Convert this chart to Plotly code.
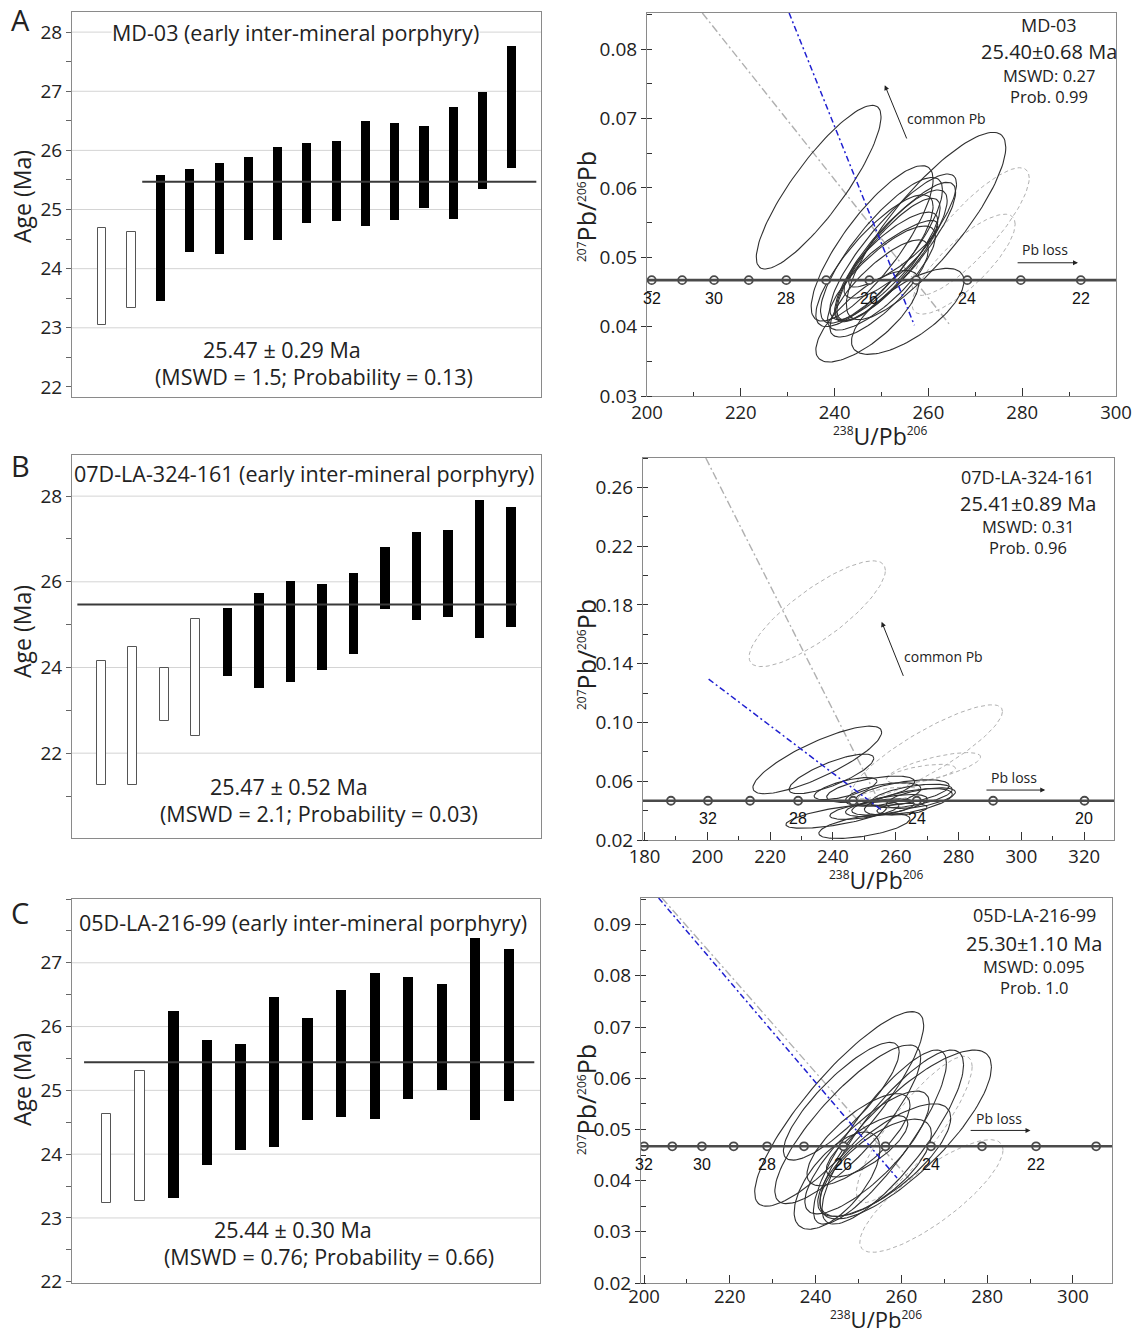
import numpy as np
import plotly.graph_objects as go

W, H = 1136, 1334

# ---------------- Left column: individual spot ages (Ma) ----------------
A_low  = [23.05, 23.33, 23.46, 24.28, 24.24, 24.49, 24.49, 24.78, 24.81, 24.72, 24.83, 25.02, 24.84, 25.35, 25.70]
A_high = [24.69, 24.62, 25.58, 25.68, 25.78, 25.88, 26.05, 26.13, 26.16, 26.49, 26.47, 26.41, 26.74, 26.98, 27.76]
A_rejected = [1, 1, 0, 0, 0, 0, 0, 0, 0, 0, 0, 0, 0, 0, 0]
A_mean = 25.47

B_low  = [21.26, 21.26, 22.76, 22.39, 23.79, 23.52, 23.66, 23.93, 24.32, 25.36, 25.11, 25.17, 24.70, 24.95]
B_high = [24.16, 24.49, 23.98, 25.13, 25.40, 25.73, 26.03, 25.96, 26.21, 26.81, 27.16, 27.20, 27.91, 27.75]
B_rejected = [1, 1, 1, 1, 0, 0, 0, 0, 0, 0, 0, 0, 0, 0]
B_mean = 25.47

C_low  = [23.24, 23.27, 23.32, 23.83, 24.06, 24.11, 24.54, 24.59, 24.55, 24.87, 25.01, 24.54, 24.84]
C_high = [24.63, 25.31, 26.25, 25.79, 25.73, 26.46, 26.14, 26.58, 26.84, 26.77, 26.66, 27.39, 27.21]
C_rejected = [1, 1, 0, 0, 0, 0, 0, 0, 0, 0, 0, 0, 0]
C_mean = 25.44

A_left_ticks = [22, 23, 24, 25, 26, 27, 28]
B_left_ticks = [22, 24, 26, 28]
C_left_ticks = [22, 23, 24, 25, 26, 27]
A_grid = [23, 24, 25, 26, 27, 28]
B_grid = [22, 24, 26, 28]
C_grid = [23, 24, 25, 26, 27]

# ---------------- Right column: Tera-Wasserburg ellipses ----------------
# centre 238U/206Pb, centre 207Pb/206Pb, half-width, half-height, error correlation, grey(rejected)
A_ex   = [236.6, 259.5, 248.0, 252.5, 253.0, 252.0, 251.5, 252.5, 252.0, 247.0, 255.6, 250.0, 249.5, 248.5, 250.0, 269.0, 267.5]
A_ey   = [0.0601, 0.0545, 0.0520, 0.0515, 0.0508, 0.0502, 0.0497, 0.0505, 0.0503, 0.0415, 0.0422, 0.0470, 0.0455, 0.0495, 0.0510, 0.0537, 0.0490]
A_esx  = [13.3, 17.0, 13.0, 13.5, 12.8, 12.0, 11.0, 9.5, 10.0, 11.0, 12.0, 11.5, 10.5, 12.5, 13.0, 12.5, 11.0]
A_esy  = [0.0118, 0.0135, 0.0112, 0.0105, 0.0100, 0.0095, 0.0088, 0.0048, 0.0062, 0.0066, 0.0062, 0.0075, 0.0070, 0.0095, 0.0105, 0.0092, 0.0072]
A_erho = [0.86, 0.84, 0.82, 0.86, 0.86, 0.84, 0.84, 0.86, 0.80, 0.74, 0.70, 0.80, 0.80, 0.82, 0.83, 0.84, 0.80]
A_egray = [0, 0, 0, 0, 0, 0, 0, 0, 0, 0, 0, 0, 0, 0, 0, 1, 1]

B_ex   = [235.0, 239.5, 244.0, 252.0, 256.0, 262.0, 265.0, 264.0, 258.0, 255.0, 250.0, 262.0, 241.0, 250.0, 268.0, 235.0, 270.0, 272.0, 268.0, 258.0]
B_ey   = [0.0745, 0.0650, 0.0550, 0.0545, 0.0510, 0.0520, 0.0500, 0.0460, 0.0440, 0.0420, 0.0400, 0.0410, 0.0360, 0.0295, 0.0485, 0.1740, 0.0800, 0.0690, 0.0650, 0.0510]
B_esx  = [20.5, 13.5, 10.0, 14.0, 12.0, 15.0, 13.0, 14.0, 12.0, 11.0, 11.0, 8.0, 16.0, 14.5, 11.0, 21.7, 24.0, 15.0, 11.0, 10.0]
B_esy  = [0.0230, 0.0135, 0.0075, 0.0090, 0.0080, 0.0090, 0.0080, 0.0090, 0.0070, 0.0060, 0.0060, 0.0040, 0.0080, 0.0085, 0.0070, 0.0360, 0.0320, 0.0105, 0.0065, 0.0050]
B_erho = [0.82, 0.78, 0.68, 0.58, 0.50, 0.55, 0.55, 0.58, 0.58, 0.50, 0.58, 0.30, 0.68, 0.58, 0.58, 0.82, 0.86, 0.72, 0.58, 0.50]
B_egray = [0, 0, 0, 0, 0, 0, 0, 0, 0, 0, 0, 0, 0, 0, 0, 1, 1, 1, 1, 1]

C_ex   = [245.5, 246.0, 247.5, 255.0, 258.0, 261.0, 252.0, 256.0, 254.0, 252.0, 245.0, 250.0, 267.0, 263.0]
C_ey   = [0.0540, 0.0555, 0.0510, 0.0485, 0.0485, 0.0490, 0.0455, 0.0440, 0.0425, 0.0467, 0.0400, 0.0480, 0.0370, 0.0500]
C_esx  = [19.7, 13.5, 17.0, 15.5, 16.5, 20.0, 14.5, 15.5, 13.0, 9.5, 10.0, 12.0, 16.7, 13.5]
C_esy  = [0.0190, 0.0115, 0.0155, 0.0170, 0.0170, 0.0165, 0.0120, 0.0110, 0.0095, 0.0060, 0.0095, 0.0090, 0.0110, 0.0143]
C_erho = [0.86, 0.84, 0.84, 0.85, 0.83, 0.80, 0.80, 0.75, 0.70, 0.75, 0.65, 0.75, 0.82, 0.86]
C_egray = [0, 0, 0, 0, 0, 0, 0, 0, 0, 0, 0, 0, 1, 1]

# concordia age marks (Ma) and their 238U/206Pb positions
conc_y = 0.0467
A_conc_age = [32, 31, 30, 29, 28, 27, 26, 25, 24, 23, 22]
A_conc_x   = [201.0, 207.5, 214.3, 221.7, 229.7, 238.2, 247.4, 257.4, 268.3, 279.7, 292.5]
A_conc_lbl = [32, 30, 28, 26, 24, 22]
B_conc_age = [34, 32, 30, 28, 26, 24, 22, 20]
B_conc_x   = [188.4, 200.2, 213.6, 228.9, 246.4, 266.7, 291.0, 320.1]
B_conc_lbl = [32, 28, 24, 20]
C_conc_age = [32, 31, 30, 29, 28, 27, 26, 25, 24, 23, 22, 21]
C_conc_x   = [200.0, 206.6, 213.5, 220.9, 228.7, 237.3, 246.5, 256.3, 266.9, 278.8, 291.4, 305.4]
C_conc_lbl = [32, 30, 28, 26, 24, 22]

# discordia / regression lines (x pairs, y pairs)
A_grey_line_x = [211.8, 264.4];  A_grey_line_y = [0.0852, 0.0404]
A_blue_line_x = [230.3, 257.0];  A_blue_line_y = [0.0852, 0.0402]
B_grey_line_x = [199.5, 254.5];  B_grey_line_y = [0.2800, 0.0470]
B_blue_line_x = [200.4, 255.7];  B_blue_line_y = [0.1295, 0.0400]
C_grey_line_x = [204.2, 262.3];  C_grey_line_y = [0.0952, 0.0399]
C_blue_line_x = [203.4, 259.0];  C_blue_line_y = [0.0952, 0.0405]

A_info = ["MD-03", "25.40±0.68 Ma", "MSWD: 0.27", "Prob. 0.99"]
B_info = ["07D-LA-324-161", "25.41±0.89 Ma", "MSWD: 0.31", "Prob. 0.96"]
C_info = ["05D-LA-216-99", "25.30±1.10 Ma", "MSWD: 0.095", "Prob. 1.0"]

FONT = "Open Sans"
DARK = "#222222"
LEFT_TXT = 21.5

fig = go.Figure()
shapes = []
annots = []

def px_x(p):
    return p / W

def px_y(p):
    return 1 - p / H

def ax_names(i):
    return ("x" if i == 1 else f"x{i}"), ("y" if i == 1 else f"y{i}")

# ---------- left panels ----------
def left_panel(i, low, high, rej, mean, mean_span, grid, title, tpos, res1, r1pos, res2, r2pos):
    xr, yr = ax_names(i)
    n = len(low)
    pos = list(range(1, n + 1))
    ox = [p for p, r in zip(pos, rej) if r]
    ol = [l for l, r in zip(low, rej) if r]
    oh = [h - l for l, h, r in zip(low, high, rej) if r]
    fx = [p for p, r in zip(pos, rej) if not r]
    fl = [l for l, r in zip(low, rej) if not r]
    fh = [h - l for l, h, r in zip(low, high, rej) if not r]
    fig.add_trace(go.Bar(x=ox, y=oh, base=ol, width=0.29, xaxis=xr, yaxis=yr,
                         marker=dict(color="white", line=dict(color="#555555", width=1))))
    fig.add_trace(go.Bar(x=fx, y=fh, base=fl, width=0.31, xaxis=xr, yaxis=yr,
                         marker=dict(color="black", line=dict(color="black", width=0))))
    fig.add_trace(go.Scatter(x=mean_span, y=[mean, mean], mode="lines", xaxis=xr, yaxis=yr,
                             line=dict(color="#3a3a3a", width=2)))
    for g in grid:
        shapes.append(dict(type="line", xref=f"{xr} domain", yref=yr, x0=0, x1=1, y0=g, y1=g,
                           line=dict(color="#d4d4d4", width=1), layer="below"))
    annots.append(dict(x=tpos[0], y=tpos[1], xref=xr, yref=yr, text=title, showarrow=False,
                       xanchor="center", yanchor="middle",
                       font=dict(family=FONT, size=LEFT_TXT, color=DARK), bgcolor="white", borderpad=0))
    annots.append(dict(x=r1pos[0], y=r1pos[1], xref=xr, yref=yr, text=res1, showarrow=False,
                       xanchor="center", yanchor="middle",
                       font=dict(family=FONT, size=LEFT_TXT, color=DARK)))
    annots.append(dict(x=r2pos[0], y=r2pos[1], xref=xr, yref=yr, text=res2, showarrow=False,
                       xanchor="center", yanchor="middle",
                       font=dict(family=FONT, size=LEFT_TXT, color=DARK)))

left_panel(1, A_low, A_high, A_rejected, A_mean, [2.37, 15.84], A_grid,
           "MD-03 (early inter-mineral porphyry)", (7.6, 28.0),
           "25.47 ± 0.29 Ma", (7.16, 22.64), "(MSWD = 1.5; Probability = 0.13)", (8.25, 22.17))
left_panel(3, B_low, B_high, B_rejected, B_mean, [0.24, 14.17], B_grid,
           "07D-LA-324-161 (early inter-mineral porphyry)", (7.44, 28.53),
           "25.47 ± 0.52 Ma", (6.97, 21.22), "(MSWD = 2.1; Probability = 0.03)", (7.92, 20.6))
left_panel(5, C_low, C_high, C_rejected, C_mean, [0.33, 13.76], C_grid,
           "05D-LA-216-99 (early inter-mineral porphyry)", (6.87, 27.63),
           "25.44 ± 0.30 Ma", (6.55, 22.82), "(MSWD = 0.76; Probability = 0.66)", (7.64, 22.39))

# ---------- right panels ----------
def ellipse(cx, cy, sx, sy, rho, n=120):
    t = np.linspace(0, 2 * np.pi, n)
    x = cx + sx * np.cos(t)
    y = cy + sy * (rho * np.cos(t) + np.sqrt(1 - rho ** 2) * np.sin(t))
    return x, y

def right_panel(i, ex, ey, esx, esy, erho, egray, cx, cage, clbl, clbl_y, gl, bl, info, info_x, info_y,
                cpb, plo):
    xr, yr = ax_names(i)
    for k in range(len(ex)):
        x, y = ellipse(ex[k], ey[k], esx[k], esy[k], erho[k])
        if egray[k]:
            fig.add_trace(go.Scatter(x=x, y=y, mode="lines", xaxis=xr, yaxis=yr,
                                     line=dict(color="#b0b0b0", width=1, dash="4px,3px")))
    fig.add_trace(go.Scatter(x=gl[0], y=gl[1], mode="lines", xaxis=xr, yaxis=yr,
                             line=dict(color="#b0b0b0", width=1.4, dash="8px,3px,2px,3px")))
    for k in range(len(ex)):
        x, y = ellipse(ex[k], ey[k], esx[k], esy[k], erho[k])
        if not egray[k]:
            fig.add_trace(go.Scatter(x=x, y=y, mode="lines", xaxis=xr, yaxis=yr,
                                     line=dict(color="#303030", width=1.1)))
    fig.add_trace(go.Scatter(x=bl[0], y=bl[1], mode="lines", xaxis=xr, yaxis=yr,
                             line=dict(color="#2020d0", width=1.5, dash="6px,3px,2px,3px")))
    shapes.append(dict(type="line", xref=f"{xr} domain", yref=yr, x0=0, x1=1, y0=conc_y, y1=conc_y,
                       line=dict(color="#4a4a4a", width=2.6)))
    fig.add_trace(go.Scatter(x=cx, y=[conc_y] * len(cx), mode="markers", xaxis=xr, yaxis=yr,
                             text=[str(a) for a in cage],
                             marker=dict(symbol="circle", size=8, color="white",
                                         line=dict(color="#4a4a4a", width=1.8))))
    for a in clbl:
        xx = cx[cage.index(a)]
        annots.append(dict(x=xx, y=clbl_y, xref=xr, yref=yr, text=str(a), showarrow=False,
                           xanchor="center", yanchor="middle",
                           font=dict(family="Liberation Sans", size=16, color="#111")))
    sizes = [18, 20, 16.5, 16.5]
    for t, yy, s in zip(info, info_y, sizes):
        annots.append(dict(x=info_x, y=yy, xref=xr, yref=yr, text=t, showarrow=False,
                           xanchor="center", yanchor="middle",
                           font=dict(family=FONT, size=s, color=DARK)))
    if cpb is not None:
        (hx, hy, tx, ty, lx, ly) = cpb
        annots.append(dict(x=hx, y=hy, ax=tx, ay=ty, xref=xr, yref=yr, axref=xr, ayref=yr, text="",
                           showarrow=True, arrowhead=2, arrowsize=1, arrowwidth=1, arrowcolor="#222"))
        annots.append(dict(x=lx, y=ly, xref=xr, yref=yr, text="common Pb", showarrow=False,
                           xanchor="left", yanchor="middle", font=dict(family=FONT, size=14, color=DARK)))
    (x0, x1, ay_, lx, ly) = plo
    annots.append(dict(x=x1, y=ay_, ax=x0, ay=ay_, xref=xr, yref=yr, axref=xr, ayref=yr, text="",
                       showarrow=True, arrowhead=2, arrowsize=1, arrowwidth=1, arrowcolor="#222"))
    annots.append(dict(x=lx, y=ly, xref=xr, yref=yr, text="Pb loss", showarrow=False,
                       xanchor="center", yanchor="middle", font=dict(family=FONT, size=14, color=DARK)))

right_panel(2, A_ex, A_ey, A_esx, A_esy, A_erho, A_egray, A_conc_x, A_conc_age, A_conc_lbl, 0.0440,
            (A_grey_line_x, A_grey_line_y), (A_blue_line_x, A_blue_line_y),
            A_info, 285.7, [0.0835, 0.0796, 0.0762, 0.0731],
            (250.7, 0.0748, 255.5, 0.0669, 255.1, 0.0700), (278.7, 291.9, 0.0492, 284.9, 0.0511))
right_panel(4, B_ex, B_ey, B_esx, B_esy, B_erho, B_egray, B_conc_x, B_conc_age, B_conc_lbl, 0.0347,
            (B_grey_line_x, B_grey_line_y), (B_blue_line_x, B_blue_line_y),
            B_info, 302.1, [0.2672, 0.2490, 0.2336, 0.2189],
            (255.5, 0.1685, 262.6, 0.1307, 262.0, 0.1447), (288.4, 307.6, 0.0540, 297.8, 0.0624))
right_panel(6, C_ex, C_ey, C_esx, C_esy, C_erho, C_egray, C_conc_x, C_conc_age, C_conc_lbl, 0.0431,
            (C_grey_line_x, C_grey_line_y), (C_blue_line_x, C_blue_line_y),
            C_info, 291.0, [0.0918, 0.0864, 0.0819, 0.0777],
            None, (275.8, 290.1, 0.0498, 282.7, 0.0522))

# ---------- axes ----------
LINE = "#8a8a8a"
TICKF = dict(family=FONT, size=19, color=DARK)

def left_axes(i, dom_x, dom_y, xrange, yrange, ticks, minor_dtick):
    xr, yr = ax_names(i)
    xa = dict(domain=dom_x, range=xrange, showticklabels=False, ticks="", showgrid=False, automargin=False,
              zeroline=False, showline=True, mirror=True, linecolor=LINE, linewidth=1, anchor=yr)
    ya = dict(domain=dom_y, range=yrange, tickvals=ticks, ticks="outside", ticklen=5, tickcolor="#666",
              tickfont=TICKF, showgrid=False, zeroline=False, showline=True, mirror=True, automargin=False,
              linecolor=LINE, linewidth=1, anchor=xr,
              minor=dict(dtick=minor_dtick, tick0=0, ticks="outside", ticklen=5, tickcolor="#666", showgrid=False))
    return xa, ya

def right_axes(i, dom_x, dom_y, xrange, yrange, xt, yt, xminor, yminor, ytickfmt, standoff=0):
    xr, yr = ax_names(i)
    xa = dict(domain=dom_x, range=xrange, tickvals=xt, ticks="inside", ticklen=8, tickcolor="#333",
              tickfont=dict(family=FONT, size=18.5, color=DARK), showgrid=False, zeroline=False, automargin=False,
              showline=True, mirror=True, linecolor=LINE, linewidth=1, anchor=yr, ticklabelstandoff=standoff,
              minor=dict(dtick=xminor, tick0=0, ticks="inside", ticklen=4, tickcolor="#333", showgrid=False))
    ya = dict(domain=dom_y, range=yrange, tickvals=yt, ticktext=[ytickfmt.format(v) for v in yt],
              ticks="outside", ticklen=5, tickcolor="#333", automargin=False,
              tickfont=dict(family=FONT, size=19, color=DARK), showgrid=False, zeroline=False,
              showline=True, mirror=True, linecolor=LINE, linewidth=1, anchor=xr,
              minor=dict(dtick=yminor, tick0=0, ticks="inside", ticklen=5, tickcolor="#333", showgrid=False))
    return xa, ya

layout_axes = {}
LX = [px_x(72), px_x(541)]
xa, ya = left_axes(1, LX, [px_y(397), px_y(12)], [-0.03, 16.0], [21.83, 28.34], A_left_ticks, 0.5)
layout_axes["xaxis"], layout_axes["yaxis"] = xa, ya
xa, ya = left_axes(3, LX, [px_y(838), px_y(455)], [0.07, 14.95], [20.02, 28.96], B_left_ticks, 1)
layout_axes["xaxis3"], layout_axes["yaxis3"] = xa, ya
xa, ya = left_axes(5, [px_x(72), px_x(540)], [px_y(1283), px_y(899)], [-0.03, 13.93], [21.98, 28.0], C_left_ticks, 0.5)
layout_axes["xaxis5"], layout_axes["yaxis5"] = xa, ya

xa, ya = right_axes(2, [px_x(647), px_x(1116)], [px_y(396), px_y(13)], [200, 300], [0.03, 0.0852],
                    [200, 220, 240, 260, 280, 300], [0.03, 0.04, 0.05, 0.06, 0.07, 0.08], 10, 0.005, "{:.2f}")
layout_axes["xaxis2"], layout_axes["yaxis2"] = xa, ya
xa, ya = right_axes(4, [px_x(643), px_x(1114)], [px_y(840), px_y(458)], [179.5, 329.5], [0.02, 0.28],
                    [180, 200, 220, 240, 260, 280, 300, 320], [0.02, 0.06, 0.10, 0.14, 0.18, 0.22, 0.26], 10, 0.02, "{:.2f}")
layout_axes["xaxis4"], layout_axes["yaxis4"] = xa, ya
xa, ya = right_axes(6, [px_x(641), px_x(1112)], [px_y(1283), px_y(898)], [199.3, 309.1], [0.02, 0.0952],
                    [200, 220, 240, 260, 280, 300], [0.02, 0.03, 0.04, 0.05, 0.06, 0.07, 0.08, 0.09], 10, 0.005, "{:.2f}",
                    standoff=-3)
layout_axes["xaxis6"], layout_axes["yaxis6"] = xa, ya

# ---------- paper-level labels ----------
def paper_text(x, y, text, size, angle=0, yanchor="middle"):
    annots.append(dict(x=px_x(x), y=px_y(y), xref="paper", yref="paper", text=text, showarrow=False,
                       xanchor="center", yanchor=yanchor, textangle=angle,
                       font=dict(family=FONT, size=size, color=DARK)))

def small(s):
    return f'<sup><span style="font-size:12px">{s}</span></sup>'

YTITLE = small("207") + "Pb/" + small("206") + "Pb"
XTITLE = small("238") + "U/Pb" + small("206")

for letter, yy in [("A", 20), ("B", 465), ("C", 912)]:
    paper_text(20, yy, letter, 29)
for yy in [197, 632, 1080]:
    paper_text(22, yy, "Age (Ma)", 23, -90)
for yy in [207, 655, 1100]:
    paper_text(586, yy, YTITLE, 25, -90)
paper_text(880, 436, XTITLE, 23)
paper_text(876, 880, XTITLE, 23)
paper_text(876, 1336, XTITLE, 22, yanchor="bottom")

fig.update_layout(width=W, height=H, margin=dict(l=0, r=0, t=0, b=0, autoexpand=False), paper_bgcolor="white",
                  plot_bgcolor="white", showlegend=False, barmode="overlay", bargap=0,
                  shapes=shapes, annotations=annots, **layout_axes)

fig.write_html("out.html")
